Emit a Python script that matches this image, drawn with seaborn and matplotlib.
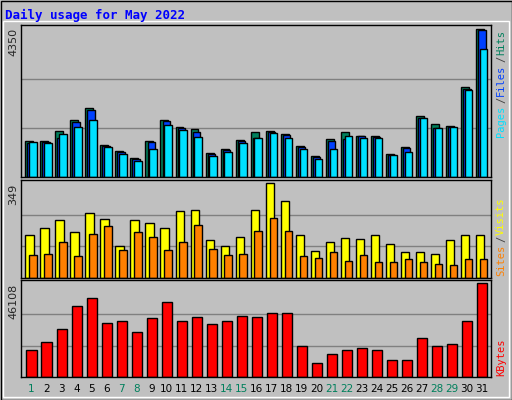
import numpy as np
import pandas as pd
import matplotlib
matplotlib.use("Agg")
import matplotlib.pyplot as plt
from matplotlib.patches import Rectangle
import seaborn as sns

days = list(range(1, 32))
hits = [1073,1073,1368,1693,2047,955,778,571,1073,1693,1486,1427,718,837,1102,1339,1368,1279,925,630,1132,1339,1220,1220,689,896,1811,1575,1516,2667,4350]
files = [1014,1043,1161,1634,1988,925,748,541,1043,1663,1457,1339,689,807,1073,1161,1339,1250,896,600,1073,1132,1220,1191,659,866,1752,1457,1486,2608,4320]
pages = [1043,1014,1279,1486,1693,896,689,482,837,1545,1398,1191,630,748,1014,1161,1309,1161,837,541,837,1220,1161,1161,659,748,1752,1457,1486,2579,3760]
visits = [156,182,212,167,239,216,118,212,201,182,247,250,140,118,152,250,349,281,159,99,133,148,144,159,125,95,95,87,140,156,156]
sites = [83,87,133,80,163,190,102,167,152,102,133,193,106,83,87,171,220,171,80,72,95,61,83,57,57,68,57,53,49,68,68]
kbytes = [13295,17335,23393,35005,38540,26423,27433,21879,28948,36521,27433,29452,25918,27433,29957,29452,31472,31472,15315,6732,11276,13295,14306,13295,8247,8247,18850,15315,16325,27433,46108]
weekend = [1,7,8,14,15,21,22,28,29]

sns.set_style("white")
plt.rcParams['font.family'] = ['DejaVu Sans']
W, H = 512, 400
fig = plt.figure(figsize=(5.12, 4.0), dpi=100, facecolor="#c0c0c0")
fig.patches.append(Rectangle((0.5/W, 0.5/H), 1-1/W, 1-1/H, transform=fig.transFigure,
                             fill=False, edgecolor="black", lw=1))
fig.patches.append(Rectangle((3/W, 3/H), 1-6/W, 1-24/H, transform=fig.transFigure,
                             fill=False, edgecolor="white", lw=1))

def add_ax(top, bottom):
    ax = fig.add_axes([21/W, 1-bottom/H, 470/W, (bottom-top)/H])
    ax.set_facecolor("#c0c0c0")
    for s in ax.spines.values():
        s.set_color("black"); s.set_linewidth(1)
    return ax

x = np.array(days, dtype=float)

def bars(ax, vals, off, width, color):
    df = pd.DataFrame({"x": x + off, "y": vals})
    sns.barplot(data=df, x="x", y="y", native_scale=True, width=width,
                color=color, saturation=1, edgecolor="black", linewidth=1, ax=ax)

def finish(ax, ymax):
    ax.set_xlim(0.3, 31.6)
    ax.set_ylim(0, ymax * 1.03)
    for f in (1/3, 2/3):
        ax.axhline(ymax * f, color="#808080", lw=1, zorder=0)
    ax.set_xticks([]); ax.set_yticks([])
    ax.set_xlabel(""); ax.set_ylabel("")
    ax.set_axisbelow(True)

ax1 = add_ax(25, 177)
bars(ax1, hits, -0.145, 0.53, "#00805c")
bars(ax1, files, -0.02, 0.51, "#0040ff")
bars(ax1, pages, 0.1, 0.5, "#00e0ff")
finish(ax1, 4350)

ax2 = add_ax(180, 278)
bars(ax2, visits, -0.13, 0.56, "#ffff00")
bars(ax2, sites, 0.1, 0.5, "#ff8000")
finish(ax2, 349)

ax3 = add_ax(280, 377)
bars(ax3, kbytes, 0.0, 0.67, "#ff0000")
finish(ax3, 46108)

for ax in (ax1, ax2, ax3):
    for c in ax.patches:
        c.set_zorder(2)

def ftext(px, py, s, **kw):
    fig.text(px/W, 1-py/H, s, **kw)

ftext(5, 15, "Daily usage for May 2022", color="#0000ff", fontsize=9,
      fontweight="bold", family="DejaVu Sans Mono", va="center", ha="left")
ftext(13, 28, "4350", rotation=90, fontsize=8, va="top", ha="center")
ftext(13, 184, "349", rotation=90, fontsize=8, va="top", ha="center")
ftext(13, 284, "46108", rotation=90, fontsize=8, va="top", ha="center")

mono = dict(rotation=90, fontsize=7.5, family="DejaVu Sans Mono", ha="center", va="bottom")
ftext(501, 137, "Pages", color="#00e0ff", **mono)
ftext(501, 103, "/", color="#404040", **mono)
ftext(501, 96, "Files", color="#0040ff", **mono)
ftext(501, 62, "/", color="#404040", **mono)
ftext(501, 55, "Hits", color="#00805c", **mono)
ftext(501, 276, "Sites", color="#ff8000", **mono)
ftext(501, 242, "/", color="#404040", **mono)
ftext(501, 235, "Visits", color="#ffff00", **mono)
ftext(501, 376, "KBytes", color="#ff0000", **mono)

for d in days:
    px = 31.5 + (d - 1) * 15.02
    ftext(px, 389, str(d), fontsize=7.5, ha="center", va="center",
          color="#00805c" if d in weekend else "black")

fig.savefig("out.png", dpi=100, facecolor=fig.get_facecolor())
